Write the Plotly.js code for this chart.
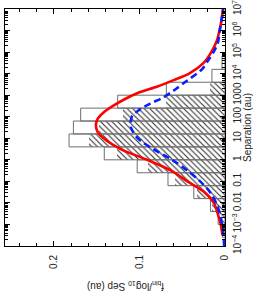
<!DOCTYPE html>
<html>
<head>
<meta charset="utf-8">
<script src="https://cdn.plot.ly/plotly-3.0.1.min.js"></script>
<style>
html,body{margin:0;padding:0;background:#fff;}
#chart{width:253px;height:294px;}
</style>
</head>
<body>
<div id="chart"></div>
<script>
// log10 separation (au) bin centres, bins 0.6 dex wide
const binCenters = [-3.3, -2.7, -2.1, -1.5, -0.9, -0.3, 0.3, 0.9, 1.5, 2.1, 2.7, 3.3, 3.9, 4.5];
const binWidth = 0.6;
// open (outline) histogram
const openFrac = [0.003, 0.008, 0.017, 0.0365, 0.0667, 0.1027, 0.1412, 0.1824, 0.1773, 0.1688, 0.1255, 0.0686, 0.0153, 0.0035];
// hatched histogram
const hatchFrac = [0.0015, 0.006, 0.0149, 0.0333, 0.0588, 0.0902, 0.1265, 0.1596, 0.1479, 0.1196, 0.0686, 0.017, 0, 0];

// red solid curve
const redLogSep = [-3.5, -3.0, -2.5, -2.0, -1.5, -1.0, -0.5, 0.0, 0.5, 1.0, 1.3, 1.6, 1.9, 2.2, 2.5, 2.8, 3.1, 3.4, 3.7, 4.0, 4.5, 5.0, 5.5, 6.0, 6.5, 7.0];
const redFrac   = [0.003, 0.005, 0.0085, 0.013, 0.024, 0.044, 0.063, 0.091, 0.122, 0.142, 0.149, 0.151, 0.149, 0.142, 0.131, 0.118, 0.102, 0.079, 0.060, 0.042, 0.025, 0.016, 0.0098, 0.0065, 0.004, 0.0025];

// blue dashed curve
const blueLogSep = [-4.0, -3.5, -3.0, -2.5, -2.0, -1.5, -1.0, -0.5, 0.0, 0.5, 1.0, 1.5, 2.0, 2.3, 2.6, 2.9, 3.3, 3.6, 3.8, 4.2, 4.6, 5.0, 5.4, 5.9, 6.5, 7.0];
const blueFrac   = [0.001, 0.0018, 0.0035, 0.006, 0.0105, 0.0175, 0.029, 0.044, 0.062, 0.084, 0.102, 0.110, 0.109, 0.101, 0.088, 0.072, 0.057, 0.047, 0.040, 0.027, 0.020, 0.0135, 0.0085, 0.0065, 0.004, 0.002];

// separation axis ticks
const sepTickVals = [-4, -3, -2, -1, 0, 1, 2, 3, 4, 5, 6, 7];
const sepTickText = ['10<sup>\u22124</sup>', '10<sup>\u22123</sup>', '0.01', '0.1', '1', '10', '100', '1000', '10<sup>4</sup>', '10<sup>5</sup>', '10<sup>6</sup>', '10<sup>7</sup>'];
const fracTickVals = [0, 0.1, 0.2];
const fracTickText = ['0', '0.1', '0.2'];

const minorSep = [];
for (let d = -4; d < 7; d++) {
  for (let k = 2; k <= 9; k++) minorSep.push(d + Math.log10(k));
}

const widths = binCenters.map(() => binWidth);

const traces = [
  {
    type: 'bar', orientation: 'h',
    y: binCenters, x: hatchFrac, width: widths,
    marker: {
      color: '#333',
      line: {width: 0},
      pattern: {shape: '\\', size: 4, solidity: 0.28, fgcolor: '#333', bgcolor: '#ffffff', fillmode: 'replace'}
    },
    hoverinfo: 'skip', showlegend: false
  },
  {
    type: 'bar', orientation: 'h',
    y: binCenters, x: openFrac, width: widths,
    marker: {color: 'rgba(0,0,0,0)', line: {color: '#6e6e6e', width: 1}},
    hoverinfo: 'skip', showlegend: false
  },
  {
    type: 'scatter', mode: 'lines',
    x: redFrac, y: redLogSep,
    line: {color: '#ff0000', width: 2.6, shape: 'spline', smoothing: 0.8},
    hoverinfo: 'skip', showlegend: false
  },
  {
    type: 'scatter', mode: 'lines',
    x: blueFrac, y: blueLogSep,
    line: {color: '#0a1eff', width: 2.6, dash: '7px,4px', shape: 'spline', smoothing: 0.8},
    hoverinfo: 'skip', showlegend: false
  }
];

const font = {family: 'Liberation Sans, Arial, sans-serif', size: 10, color: '#222'};

const layout = {
  width: 253, height: 294,
  margin: {l: 5, r: 28, t: 9, b: 48, pad: 0},
  paper_bgcolor: '#fff', plot_bgcolor: '#fff',
  barmode: 'overlay', bargap: 0,
  font: font,
  xaxis: {
    range: [0.2573, 0], showgrid: false, zeroline: false,
    showline: true, linecolor: '#000', linewidth: 1, mirror: 'allticks',
    ticks: 'inside', ticklen: 5, tickcolor: '#000', tickwidth: 1,
    tickmode: 'array', tickvals: fracTickVals, ticktext: fracTickText,
    tickangle: -90, tickfont: font, ticklabelstandoff: 4, ticklabeloverflow: 'allow',
    minor: {dtick: 0.02, ticks: 'inside', ticklen: 3, tickcolor: '#000', tickwidth: 1, showgrid: false}
  },
  yaxis: {
    side: 'right',
    range: [-4, 7], showgrid: false, zeroline: false,
    showline: true, linecolor: '#000', linewidth: 1, mirror: 'allticks',
    ticks: 'inside', ticklen: 5, tickcolor: '#000', tickwidth: 1,
    tickmode: 'array', tickvals: sepTickVals, ticktext: sepTickText,
    tickangle: -90, tickfont: font, ticklabelstandoff: 3, ticklabeloverflow: 'allow',
    minor: {tickmode: 'array', tickvals: minorSep, ticks: 'inside', ticklen: 3, tickcolor: '#000', tickwidth: 1, showgrid: false},
    title: {text: 'Separation (au)', font: font, standoff: 3}
  },
  annotations: [{
    xref: 'paper', yref: 'paper', x: 0.548, y: -0.169,
    xanchor: 'center', yanchor: 'middle',
    text: 'f<sub>bin</sub>/log<sub>10</sub> Sep (au)', textangle: 180,
    showarrow: false, font: font
  }]
};

Plotly.newPlot('chart', traces, layout, {staticPlot: true, displayModeBar: false});
</script>
</body>
</html>
